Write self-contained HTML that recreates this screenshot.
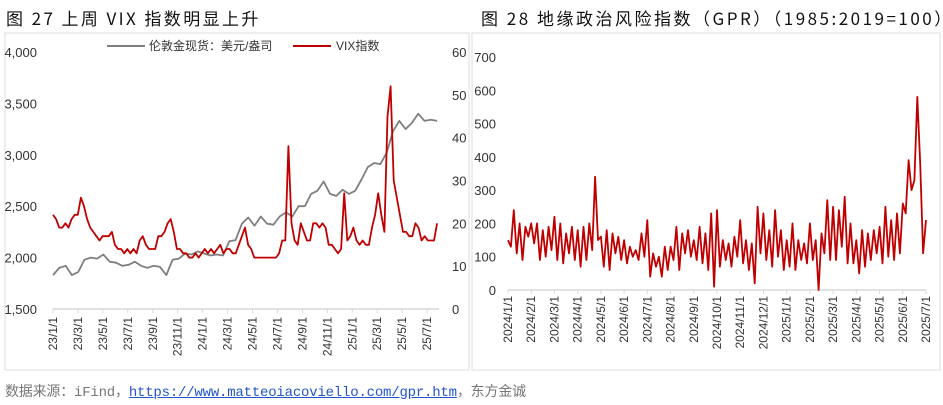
<!DOCTYPE html>
<html><head><meta charset="utf-8">
<style>
body{margin:0;width:943px;height:405px;background:#fff;overflow:hidden;font-family:"Liberation Sans","Noto Sans CJK SC",sans-serif;}
svg{position:absolute;left:0;top:0}
.src{position:absolute;left:5px;top:381px;font-size:14px;color:#777;font-family:"Liberation Mono","Noto Sans CJK SC",monospace;white-space:nowrap;letter-spacing:-0.2px}
.src a{color:#2255cc;text-decoration:underline}
</style></head><body>
<svg id="c" width="943" height="405">
<text x="6" y="25" font-size="17" fill="#111" letter-spacing="2.4" font-family="'Noto Sans CJK SC',sans-serif">图 27 上周 VIX 指数明显上升</text>
<text x="481" y="25" font-size="17" fill="#111" letter-spacing="2.5" font-family="'Noto Sans CJK SC',sans-serif">图 28 地缘政治风险指数（GPR）（1985:2019=100）</text>
<rect x="5" y="33" width="464" height="337" fill="none" stroke="#ddd"/>
<rect x="472" y="33" width="468" height="337" fill="none" stroke="#ddd"/>
<line x1="107" y1="46" x2="145" y2="46" stroke="#7f7f7f" stroke-width="2"/>
<text x="149" y="50" font-size="12" fill="#333">伦敦金现货：美元/盎司</text>
<line x1="293" y1="46" x2="331" y2="46" stroke="#c00000" stroke-width="2"/>
<text x="336" y="50" font-size="12" fill="#333">VIX指数</text>
</svg>
<div class="src">数据来源：iFind，<a href="#">https://www.matteoiacoviello.com/gpr.htm</a>，东方金诚</div>
<script>
const leftTicks=["1,500","2,000","2,500","3,000","3,500","4,000"];
const rightTicks=["0","10","20","30","40","50","60"];
const leftDates=["23/1/1","23/3/1","23/5/1","23/7/1","23/9/1","23/11/1","24/1/1","24/3/1","24/5/1","24/7/1","24/9/1","24/11/1","25/1/1","25/3/1","25/5/1","25/7/1"];
const gold=[1830,1900,1920,1830,1860,1980,2000,1990,2030,1960,1950,1920,1930,1960,1920,1900,1920,1910,1830,1980,1990,2040,2030,2060,
2040,2020,2030,2020,2160,2170,2330,2390,2310,2400,2330,2320,2400,2440,2400,2500,2500,2620,2650,2740,2620,2600,2660,2620,
2650,2760,2880,2920,2910,3020,3230,3330,3250,3310,3400,3330,3340,3330];
const vix=[22,21,19,19,20,19,21,22,22,26,24,21,19,18,17,16,17,17,17,18,15,14,14,13,14,13,14,13,16,17,15,14,14,14,17,17,18,20,21,18,14,14,13,13,12,12,13,12,
13,14,13,14,13,14,15,13,14,14,13,13,15,17,19,15,14,12,12,12,12,12,12,12,12,13,16,16,38,20,16,15,20,18,16,16,20,20,19,20,19,15,15,14,13,14,27,16,
17,19,16,15,16,15,15,19,22,27,22,18,45,52,30,26,22,18,18,17,17,20,19,16,17,16,16,16,20];
const gprTicks=["0","100","200","300","400","500","600","700"];
const gprDates=["2024/1/1","2024/2/1","2024/3/1","2024/4/1","2024/5/1","2024/6/1","2024/7/1","2024/8/1","2024/9/1","2024/10/1","2024/11/1","2024/12/1","2025/1/1","2025/2/1","2025/3/1","2025/4/1","2025/5/1","2025/6/1","2025/7/1"];
const gpr=[150,130,240,110,200,90,190,160, 200,140,200,90,180,100,190,120, 220,90,200,80,170,110,190,90, 180,70,190,90,200,120,340,150,
160,70,180,60,170,110,160,90, 150,80,130,100,120,90,170,100, 210,40,110,70,100,40,130,60, 130,90,190,60,170,110,180,100,
150,90,190,80,170,60,230,10, 240,70,150,90,140,70,160,100, 210,80,150,60,140,20,250,110, 230,90,180,70,240,100,180,60,
150,70,200,60,150,90,140,80, 200,90,150,0,170,110,270,90, 250,90,240,130,280,80,200,80, 150,50,180,70,170,90,180,110,
190,80,250,100,210,90,230,110, 260,230,390,300,330,580,380,110, 210];

const svg=document.getElementById('c');const NS='http://www.w3.org/2000/svg';
function mk(t,a,txt){const e=document.createElementNS(NS,t);for(const k in a)e.setAttribute(k,a[k]);if(txt!==undefined)e.textContent=txt;svg.appendChild(e);return e;}
const LX0=53,LX1=439,LY0=309,LY1=52,monthsL=30.8,pxM=12.47;
const yG=v=>LY0-(v-1500)/2500*(LY0-LY1);
const yV=v=>LY0-v/60*(LY0-LY1);
const xL=m=>LX0+m*pxM;
let e=mk('line',{x1:LX0,y1:LY0,x2:LX1,y2:LY0,stroke:'#d9d9d9','stroke-width':1.5});

leftTicks.forEach((t,i)=>{const v=1500+i*500;
 const el=mk('text',{x:37,y:yG(v)+5,'font-size':13,fill:'#333','text-anchor':'end'},t);
 });
rightTicks.forEach((t,i)=>{const v=i*10;
 const el=mk('text',{x:452,y:yV(v)+5,'font-size':13,fill:'#333'},t);
 });
leftDates.forEach((t,i)=>{const x=xL(i*2);
 const tk=mk('line',{x1:x,y1:LY0,x2:x,y2:LY0+4,stroke:'#d9d9d9'});
 
 const el=mk('text',{x:0,y:0,'font-size':12,fill:'#333','text-anchor':'end',transform:`translate(${x+4},${LY0+8}) rotate(-90)`},t);
 });
function path(vals,xf,yf,col,name,w){let d='';vals.forEach((v,i)=>{d+=(i?'L':'M')+xf(i).toFixed(1)+','+yf(v).toFixed(1);});
 const p=mk('path',{d,fill:'none',stroke:col,'stroke-width':w,'stroke-linejoin':'round'});
 }
path(gold,i=>xL(i*monthsL/(gold.length-1)),yG,'#7f7f7f','gold-price-line',1.8);
path(vix,i=>xL(i*monthsL/(vix.length-1)),yV,'#c00000','vix-line',1.8);
const RX0=508,RX1=926,RY0=290,RY1=57;
const yR=v=>RY0-v/700*(RY0-RY1);
const xR=m=>RX0+m/18*(RX1-RX0);
e=mk('line',{x1:RX0,y1:RY0,x2:RX1,y2:RY0,stroke:'#d9d9d9','stroke-width':1.5});

gprTicks.forEach((t,i)=>{const el=mk('text',{x:496,y:yR(i*100)+5,'font-size':13,fill:'#333','text-anchor':'end'},t);
 });
gprDates.forEach((t,i)=>{const x=xR(i);
 const tk=mk('line',{x1:x,y1:RY0,x2:x,y2:RY0+4,stroke:'#d9d9d9'});
 
 const el=mk('text',{x:0,y:0,'font-size':12,fill:'#333','text-anchor':'end',transform:`translate(${x+4},${RY0+6}) rotate(-90)`},t);
 });
path(gpr,i=>xR(i*18/(gpr.length-1)),yR,'#c00000','gpr-line',1.8);
</script>
</body></html>
